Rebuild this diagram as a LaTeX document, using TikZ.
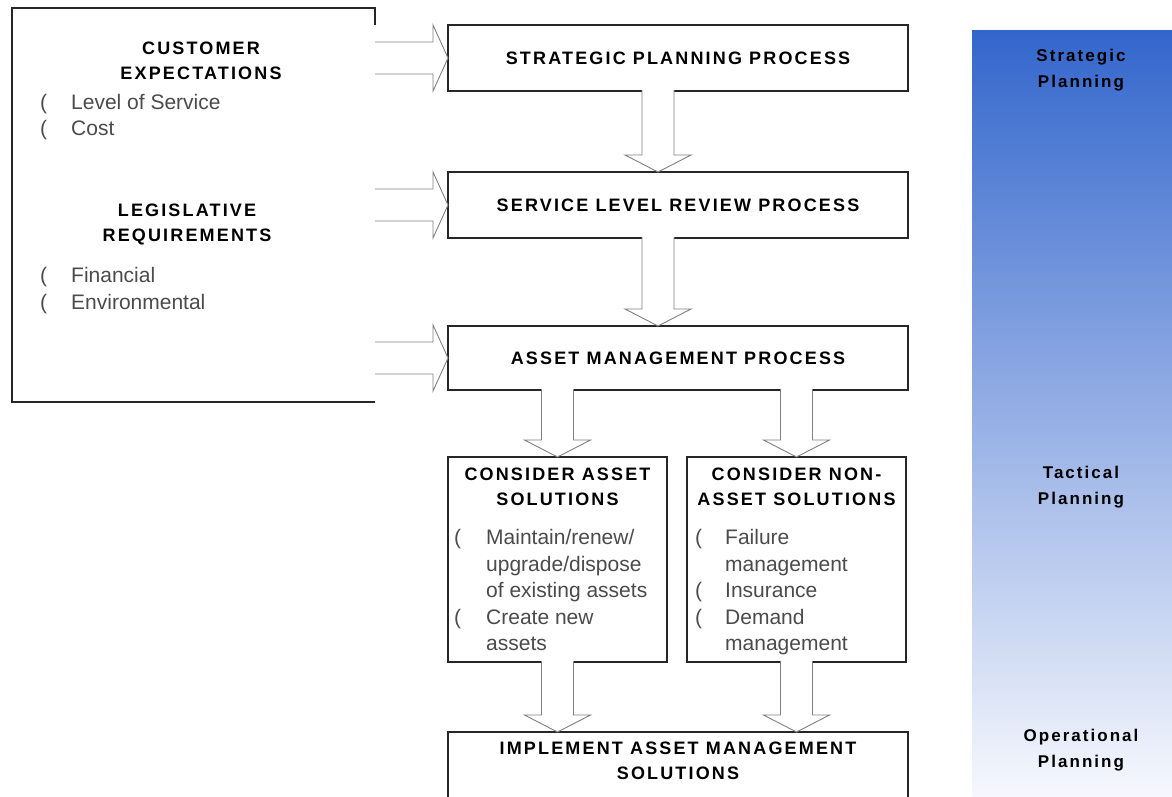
\documentclass[tikz,border=0pt]{standalone}
\usepackage{fontspec}
\setmainfont{Liberation Sans}
\newfontfamily\headfont{Liberation Sans}[LetterSpace=12]
\newfontfamily\sidefont{Liberation Sans}[LetterSpace=12]
\usetikzlibrary{positioning}

\definecolor{bandtop}{RGB}{51,102,204}
\definecolor{bandbot}{RGB}{246,248,253}
\definecolor{itemgray}{RGB}{75,75,75}

\tikzstyle{proc} = [rectangle, 
minimum width=460pt, 
minimum height=66pt,
inner sep=0pt, outer sep=0pt,
text centered, 
draw=black!85, line width=1.2pt,
fill=white,
font={\headfont\bfseries\fontsize{18}{25}\selectfont}]
\tikzstyle{option} = [rectangle, 
minimum width=219pt, 
minimum height=205pt,
inner sep=0pt, outer sep=0pt,
draw=black!85, line width=1.2pt,
fill=white]
\tikzstyle{inbox} = [rectangle, 
minimum width=363pt, 
minimum height=394pt,
inner sep=0pt, outer sep=0pt]
\tikzstyle{edge} = [draw=black!85, line width=1.2pt]
\tikzstyle{head} = [inner sep=0pt, align=center,
font={\headfont\bfseries\fontsize{18}{25}\selectfont}]
\tikzstyle{items} = [inner sep=0pt, anchor=west, text=itemgray,
font={\fontsize{21}{26.5}\selectfont}]
\tikzstyle{side} = [inner sep=0pt, align=center,
font={\sidefont\bfseries\fontsize{17}{26}\selectfont}]
\tikzstyle{band} = [rectangle, 
minimum width=200pt, 
minimum height=766pt,
inner sep=0pt, outer sep=0pt,
top color=bandtop, bottom color=bandbot]
\tikzstyle{darrow} = [fill=white, draw=gray, line width=0.9pt, line join=miter,
to path={([xshift=-16pt,yshift=1pt]\tikztostart) -- ([xshift=-16pt,yshift=17pt]\tikztotarget)
 -- ([xshift=-33pt,yshift=17pt]\tikztotarget) -- (\tikztotarget)
 -- ([xshift=33pt,yshift=17pt]\tikztotarget) -- ([xshift=16pt,yshift=17pt]\tikztotarget)
 -- ([xshift=16pt,yshift=1pt]\tikztostart)}]
\tikzstyle{rarrow} = [fill=white, draw=gray, line width=0.9pt, line join=miter,
to path={([yshift=16pt]\tikztostart) -- ([xshift=-15pt,yshift=16pt]\tikztotarget)
 -- ([xshift=-15pt,yshift=33pt]\tikztotarget) -- (\tikztotarget)
 -- ([xshift=-15pt,yshift=-33pt]\tikztotarget) -- ([xshift=-15pt,yshift=-16pt]\tikztotarget)
 -- ([yshift=-16pt]\tikztostart)}]

\begin{document}
\begin{tikzpicture}[x=1pt, y=-1pt]
\useasboundingbox (0,0) rectangle (1172,796);

% planning levels
\node (band) [band] at (1072,413) {};
\node (strat) [side] at (1081,70) {Strategic\\Planning};
\node (tact) [side] at (1081,487) {Tactical\\Planning};
\node (oper) [side] at (1081,750) {Operational\\Planning};

% drivers
\node (needs) [inbox] at (193.5,205) {};
\draw [edge] ([yshift=-17pt]needs.north east) -- (needs.north east) -- (needs.north west)
 -- (needs.south west) -- (needs.south east);
\node (custhead) [head] at (201,61) {CUSTOMER\\EXPECTATIONS};
\node (custlist) [items] at (40,117) {\begin{tabular}{@{}p{31pt}@{}l@{}}(&Level of Service\\(&Cost\end{tabular}};
\node (leghead) [head] at (187,224) {LEGISLATIVE\\REQUIREMENTS};
\node (leglist) [items] at (40,290.5) {\begin{tabular}{@{}p{31pt}@{}l@{}}(&Financial\\(&Environmental\end{tabular}};

% processes
\node (spp) [proc] at (678,58) {STRATEGIC PLANNING PROCESS};
\node (slr) [proc, below=81pt of spp] {SERVICE LEVEL REVIEW PROCESS};
\node (amp) [proc, below=88pt of slr, minimum height=64pt] {ASSET MANAGEMENT PROCESS};
\node (cas) [option, below right=67pt and 0pt of amp.south west] {};
\node (nas) [option, right=20pt of cas] {};
\node (impl) [proc, below right=70pt and 0pt of cas.south west, minimum height=80pt] {};

\node (cashead) [head, below=11pt of cas.north] {CONSIDER ASSET\\SOLUTIONS};
\node (caslist) [items] at ([xshift=6pt,yshift=-33pt]cas.west) {\begin{tabular}{@{}p{32pt}@{}l@{}}(&Maintain/renew/\\&upgrade/dispose\\&of existing assets\\(&Create new\\&assets\end{tabular}};
\node (nashead) [head, below=11pt of nas.north] {CONSIDER NON-\\ASSET SOLUTIONS};
\node (naslist) [items] at ([xshift=8pt,yshift=-33pt]nas.west) {\begin{tabular}{@{}p{30pt}@{}l@{}}(&Failure\\&management\\(&Insurance\\(&Demand\\&management\end{tabular}};
\node (impltext) [head, below=10pt of impl.north] {IMPLEMENT ASSET MANAGEMENT\\SOLUTIONS};

% arrow ends
\coordinate (in1) at (needs.east |- spp.west);
\coordinate (in2) at (needs.east |- slr.west);
\coordinate (in3) at (needs.east |- amp.west);
\coordinate (d1) at ([xshift=-20pt]spp.south);
\coordinate (e1) at ([xshift=-20pt]slr.north);
\coordinate (d2) at ([xshift=-20pt]slr.south);
\coordinate (e2) at ([xshift=-20pt]amp.north);
\coordinate (d3) at (amp.south -| cas.north);
\coordinate (d4) at (amp.south -| nas.north);
\coordinate (e5) at (impl.north -| cas.south);
\coordinate (e6) at (impl.north -| nas.south);

\draw [rarrow] (in1) to (spp.west);
\draw [rarrow] (in2) to (slr.west);
\draw [rarrow] (in3) to (amp.west);
\draw [darrow] (d1) to (e1);
\draw [darrow] (d2) to (e2);
\draw [darrow] (d3) to (cas.north);
\draw [darrow] (d4) to (nas.north);
\draw [darrow] (cas.south) to (e5);
\draw [darrow] (nas.south) to (e6);
\end{tikzpicture}
\end{document}
